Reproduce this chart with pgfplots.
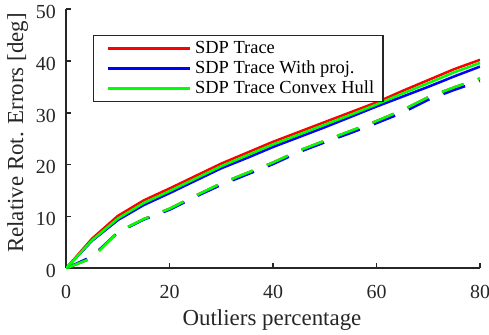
\documentclass[border=0pt]{standalone}
\usepackage{pgfplots}
\pgfplotsset{compat=1.18}
\usepackage{fontspec}
\setmainfont{Liberation Serif}
\definecolor{axgray}{RGB}{38,38,38}
\begin{document}
\begin{tikzpicture}
\begin{axis}[
  scale only axis, width=414bp, height=259.4bp,
  xmin=0, xmax=80, ymin=0, ymax=50,
  xtick={0,20,40,60,80}, ytick={0,10,20,30,40,50},
  axis x line*=bottom, axis y line*=left,
  axis line style={axgray, line width=1.8bp, -},
  tick align=inside, tick style={axgray, line width=1.5bp},
  major tick length=5bp,
  /pgf/number format/assume math mode=true,
  ticklabel style={font=\fontsize{20}{24}\selectfont, text=axgray},
  xticklabel style={anchor=base, inner sep=0bp, yshift=-29.6bp},
  yticklabel style={anchor=base east, inner sep=0bp, xshift=-10bp, yshift=-9.3bp},
  legend cell align=left,
  legend style={at={(0.065,0.9)}, anchor=north west, draw=axgray, line width=1.5bp,
    font=\fontsize{18.5}{20}\selectfont, text=black,
    inner xsep=7bp, inner ysep=3bp, row sep=0bp,
    nodes={text height=13bp, text depth=4bp, inner ysep=1.5bp, inner xsep=2bp}},
  legend image code/.code={\path (0bp,0bp) (90bp,0bp); \draw[#1, line width=2.5bp] (6bp,0bp) -- (88bp,0bp);},
  every axis plot/.append style={line width=2.5bp},
]
\addplot[red, dash pattern=on 23bp off 15bp, forget plot] coordinates {
(0,0) (5,2.0) (10,7.0) (15,9.5) (20,11.5) (25,14.0) (30,16.4) (35,18.4) (40,20.4) (45,22.7) (50,24.6) (55,26.5) (60,28.4) (65,30.5) (70,33.0) (75,34.9) (80,36.6)};
\addplot[blue, dash pattern=on 23bp off 15bp, forget plot] coordinates {
(0,0) (5,2.3) (10,6.9) (15,9.4) (20,11.3) (25,13.8) (30,16.1) (35,18.1) (40,20.1) (45,22.4) (50,24.3) (55,26.1) (60,28.0) (65,30.0) (70,32.5) (75,34.4) (80,36.1)};
\addplot[green, dash pattern=on 23bp off 15bp, forget plot] coordinates {
(0,0) (5,2.0) (10,7.0) (15,9.5) (20,11.5) (25,14.0) (30,16.4) (35,18.4) (40,20.4) (45,22.7) (50,24.6) (55,26.5) (60,28.4) (65,30.5) (70,33.0) (75,34.9) (80,36.6)};
\addplot[red] coordinates {
(0,0) (5,5.7) (10,10.1) (15,13.1) (20,15.4) (25,17.8) (30,20.2) (35,22.3) (40,24.4) (45,26.3) (50,28.2) (55,30.1) (60,32.0) (65,34.2) (70,36.3) (75,38.4) (80,40.2)};
\addlegendentry{SDP Trace}
\addplot[blue] coordinates {
(0,0) (5,5.3) (10,9.3) (15,12.2) (20,14.5) (25,16.9) (30,19.3) (35,21.3) (40,23.4) (45,25.3) (50,27.2) (55,29.2) (60,31.2) (65,33.1) (70,35.0) (75,37.0) (80,38.9)};
\addlegendentry{SDP Trace With proj.}
\addplot[green] coordinates {
(0,0) (5,5.4) (10,9.6) (15,12.6) (20,14.9) (25,17.3) (30,19.7) (35,21.8) (40,23.9) (45,25.8) (50,27.7) (55,29.6) (60,31.6) (65,33.7) (70,35.7) (75,37.8) (80,39.6)};
\addlegendentry{SDP Trace Convex Hull}
\coordinate (bl) at (rel axis cs:0,0);
\coordinate (tr) at (rel axis cs:1,1);
\end{axis}
\node[anchor=base, inner sep=0bp, font=\fontsize{23}{27}\selectfont, text=axgray] at ([shift={(206bp,-56.6bp)}]bl) {Outliers percentage};
\node[anchor=base, inner sep=0bp, rotate=90, font=\fontsize{23}{27}\selectfont, text=axgray] at ([shift={(-42.8bp,135.4bp)}]bl) {Relative Rot. Errors [deg]};
\pgfresetboundingbox
\path ([shift={(-66bp,-66.6bp)}]bl) rectangle ([shift={(9bp,9bp)}]tr);
\end{tikzpicture}
\end{document}
